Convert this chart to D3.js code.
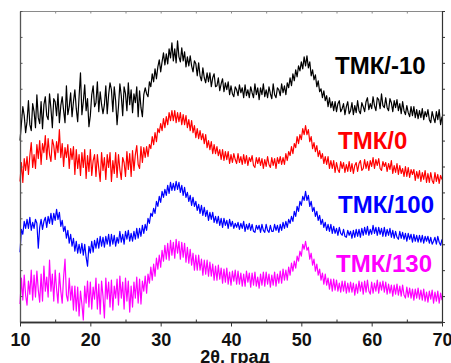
<!DOCTYPE html>
<html>
<head>
<meta charset="utf-8">
<script src="https://cdn.jsdelivr.net/npm/d3@7"></script>
<style>
  html, body { margin: 0; padding: 0; background: #fff; }
  svg { display: block; }
</style>
</head>
<body>
<svg id="chart" width="451" height="363"></svg>
<script>
// Diffraction patterns, intensity in arbitrary units (curves stacked with offsets),
// sampled from 2θ = 10° to 70° every 0.2° (one row of five readings per degree).
const thetaStart = 10;
const thetaStep = 0.2;

const tmkMinus10 = [
  182,199,216,207,190, 201,222,198,192,219, 211,195,228,205,199, 221,194,218,226,207,
  203,229,214,195,224, 221,207,229,200,217, 226,212,200,237,208, 216,230,206,221,233,
  214,201,226,250,208, 221,238,212,224,196, 207,228,237,216,220, 241,211,231,218,209,
  218,237,209,228,240, 233,211,236,222,198, 216,239,227,207,236, 229,212,240,218,233,
  210,229,220,236,206, 232,215,206,228,235, 229,226,241,236,249, 241,254,244,256,263,
  251,261,270,258,269, 259,274,265,280,262, 274,260,282,266,261, 275,262,271,256,266,
  257,267,257,251,262, 259,247,260,247,242, 255,245,240,250,241, 250,236,245,249,236,
  237,245,232,239,244, 231,240,233,241,228, 237,229,226,236,233, 227,238,230,235,225,
  238,227,233,225,236, 230,225,239,228,235, 223,235,228,239,226, 233,225,236,229,224,
  239,228,225,235,233, 227,239,230,237,228, 240,235,245,237,249, 242,253,246,257,252,
  261,254,266,257,267, 255,261,247,253,243, 248,236,242,231,234, 225,232,222,227,216,
  225,215,221,212,221, 211,219,222,211,214, 219,208,216,221,209, 212,220,208,217,210,
  222,212,209,220,216, 211,221,225,213,219, 214,226,217,212,225, 223,214,229,217,215,
  225,215,212,224,220, 211,222,215,223,212, 219,209,221,212,208, 217,210,206,216,207,
  216,205,213,204,212, 205,214,203,211,206, 213,203,200,211,205, 200,211,203,213,198,
  206
];

const tmk0 = [
  141,160,140,164,152, 166,148,167,180,155, 168,154,178,164,182, 158,179,170,187,163,
  184,168,161,183,177, 163,181,170,193,165, 179,156,175,165,178, 154,174,163,176,148,
  173,154,168,147,170, 155,173,144,167,151, 173,147,162,168,146, 168,154,141,170,152,
  165,143,168,155,170, 141,162,149,170,145, 168,153,143,165,160, 146,171,153,169,146,
  172,152,168,177,158, 154,176,160,175,165, 176,166,178,174,186, 178,190,181,194,190,
  199,192,204,195,206, 198,210,202,212,202, 212,200,210,201,210, 198,208,198,207,195,
  203,192,202,190,197, 185,194,184,192,183, 189,179,188,175,182, 173,181,169,178,169,
  176,167,173,163,173, 162,171,163,171,159, 168,160,169,163,159, 169,160,166,158,168,
  159,167,157,165,161, 167,157,155,165,159, 165,157,164,154,163, 156,166,158,155,165,
  157,164,154,165,159, 166,158,165,158,169, 162,171,167,176,169, 179,175,186,179,188,
  183,194,188,197,188, 193,181,186,174,180, 171,177,166,172,164, 169,159,166,158,166,
  154,162,154,162,150, 160,153,150,161,154, 160,150,158,151,161, 151,159,149,157,160,
  151,159,162,152,154, 163,154,161,152,162, 156,165,154,163,157, 164,154,152,161,156,
  160,151,159,153,162, 149,157,150,159,148, 157,149,154,146,156, 146,155,145,153,148,
  153,142,151,144,152, 141,150,143,152,140, 149,140,150,142,139, 150,141,148,139,147,
  143
];

const tmk100 = [
  70,93,88,101,94, 103,94,105,92,100, 94,103,99,74,95, 103,93,101,105,95,
  106,99,109,98,109, 102,113,103,110,96, 102,91,96,84,92, 79,88,76,84,71,
  81,69,78,69,79, 67,78,65,56,76, 69,81,70,82,74, 84,74,86,76,85,
  75,86,78,88,76, 88,78,87,76,85, 79,91,80,88,78, 91,83,92,81,89,
  81,91,83,94,84, 94,86,97,89,98, 92,104,99,109,106, 114,109,121,116,126,
  120,131,125,133,127, 137,129,140,132,139, 132,141,133,140,130, 137,127,135,125,130,
  121,127,117,125,116, 121,112,118,109,117, 107,115,106,112,102, 110,103,110,100,106,
  99,106,97,104,95, 104,97,102,94,103, 96,101,94,99,95, 100,93,99,94,101,
  91,98,93,99,92, 98,91,90,97,93, 97,90,98,92,90, 98,92,90,97,91,
  91,98,92,97,90, 98,92,100,94,101, 95,103,99,106,101, 111,106,116,111,121,
  117,126,122,131,122, 127,116,121,111,115, 106,111,102,107,98, 103,95,100,92,98,
  91,98,89,96,89, 94,87,95,89,87, 93,86,85,92,87, 91,84,92,85,93,
  86,93,85,94,87, 95,88,96,87,93, 88,97,89,95,87, 95,88,94,86,95,
  86,93,87,94,85, 92,84,91,85,83, 91,84,90,83,89, 81,89,83,88,80,
  88,81,87,80,87, 80,87,79,86,81, 86,79,85,78,81, 85,78,86,80,77,
  83
];

const tmk130 = [
  18,44,22,47,27, 17,41,28,52,22, 47,25,51,32,20, 48,21,56,31,45,
  25,62,31,48,21, 52,33,19,49,31, 19,45,63,27,21, 44,22,36,12,36,
  11,35,6,31,18, 2,36,19,41,15, 40,13,35,23,44, 13,38,8,41,26,
  4,44,23,40,15, 42,12,36,24,43, 17,46,24,40,13, 44,21,41,10,36,
  15,40,24,45,19, 43,18,41,31,46, 29,48,39,55,42, 58,46,64,53,67,
  55,72,61,77,63, 79,62,82,67,80, 64,83,69,81,63, 80,65,79,60,75,
  59,73,57,69,52, 67,52,67,52,63, 47,62,48,62,46, 60,46,58,42,56,
  42,57,43,54,39, 53,40,54,38,50, 37,51,41,52,38, 51,38,49,36,48,
  36,51,40,49,35, 49,37,50,36,45, 34,48,37,50,36, 50,38,48,35,47,
  37,50,36,48,39, 51,39,53,42,52, 42,55,47,59,51, 61,54,66,61,71,
  66,78,73,81,72, 75,63,69,57,63, 51,58,47,53,42, 49,38,48,37,44,
  33,43,31,43,32, 42,31,39,30,41, 31,41,29,39,30, 40,30,39,27,38,
  29,41,31,40,28, 41,30,42,31,28, 40,29,39,31,42, 29,40,32,41,30,
  40,28,38,29,37, 26,37,28,38,27, 36,26,37,27,24, 35,25,34,24,33,
  22,33,24,34,23, 32,22,33,21,30, 20,31,23,32,19, 30,21,31,19,29,
  22
];

const seriesNames = ["ТМК/-10", "ТМК/0", "ТМК/100", "ТМК/130"];
const seriesValues = [tmkMinus10, tmk0, tmk100, tmk130];
const seriesColors = ["#000000", "#ff0000", "#0000ff", "#ff00ff"];

const xTicks = [10, 20, 30, 40, 50, 60, 70];
const xMinorTicks = [15, 25, 35, 45, 55, 65];
const yTicks = d3.range(0, 313, 26);
const xTitle = "2θ, град";

// ---- layout ----
const svg = d3.select("#chart");
const plot = { left: 20, right: 442, top: 11, bottom: 322 };
const labelPos = [
  { x: 335, y: 73.5 },
  { x: 338, y: 148.5 },
  { x: 338, y: 213 },
  { x: 336, y: 271.5 }
];

const x = d3.scaleLinear().domain([10, 70]).range([plot.left, plot.right]);
const y = d3.scaleLinear().domain([0, 312]).range([plot.bottom, plot.top]);

const font = "'Liberation Sans', Arial, sans-serif";

// ---- curves ----
const line = d3.line()
  .x((d, i) => x(thetaStart + i * thetaStep))
  .y(d => y(d));

svg.append("g")
  .selectAll("path")
  .data(seriesValues)
  .join("path")
  .attr("d", line)
  .attr("fill", "none")
  .attr("stroke", (d, i) => seriesColors[i])
  .attr("stroke-width", 1.2)
  .attr("stroke-linejoin", "round");

// ---- frame and ticks ----
function styleAxis(g, color, width) {
  g.select(".domain").attr("stroke", color).attr("stroke-width", width);
  g.selectAll(".tick line").attr("stroke", color).attr("stroke-width", 1);
}

// top edge, small inward ticks
svg.append("g")
  .attr("transform", `translate(0,${plot.top})`)
  .call(d3.axisTop(x).tickValues(xTicks.concat(xMinorTicks)).tickSize(-2.5).tickSizeOuter(0).tickFormat(""))
  .call(g => styleAxis(g, "#8a8a8a", 1));

// right edge, outward ticks
svg.append("g")
  .attr("transform", `translate(${plot.right},0)`)
  .call(d3.axisRight(y).tickValues(yTicks).tickSize(3).tickSizeOuter(0).tickFormat(""))
  .call(g => styleAxis(g, "#333", 1.2));

// left edge, inward ticks
svg.append("g")
  .attr("transform", `translate(${plot.left},0)`)
  .call(d3.axisLeft(y).tickValues(yTicks).tickSize(-2.5).tickSizeOuter(0).tickFormat(""))
  .call(g => styleAxis(g, "#555", 1.3));

// bottom minor ticks (inward)
svg.append("g")
  .attr("transform", `translate(0,${plot.bottom})`)
  .call(d3.axisBottom(x).tickValues(xMinorTicks).tickSize(-2.5).tickSizeOuter(0).tickFormat(""))
  .call(g => styleAxis(g, "#333", 1.4));

// bottom major ticks with labels
const xAxis = svg.append("g")
  .attr("transform", `translate(0,${plot.bottom})`)
  .call(d3.axisBottom(x).tickValues(xTicks).tickSize(4.5).tickSizeOuter(0).tickFormat(d3.format("d")))
  .call(g => styleAxis(g, "#333", 1.4));

xAxis.selectAll("text")
  .attr("dy", null)
  .attr("y", 24)
  .attr("fill", "#111")
  .style("font-family", font)
  .style("font-weight", "bold")
  .style("font-size", "18px");

// axis title
svg.append("text")
  .attr("x", 235)
  .attr("y", 362.5)
  .attr("text-anchor", "middle")
  .attr("fill", "#111")
  .style("font-family", font)
  .style("font-weight", "bold")
  .style("font-size", "18px")
  .text(xTitle);

// curve labels
svg.append("g")
  .selectAll("text")
  .data(seriesNames)
  .join("text")
  .attr("x", (d, i) => labelPos[i].x)
  .attr("y", (d, i) => labelPos[i].y)
  .attr("fill", (d, i) => seriesColors[i])
  .style("font-family", font)
  .style("font-weight", "bold")
  .style("font-size", "24px")
  .text(d => d);
</script>
</body>
</html>
